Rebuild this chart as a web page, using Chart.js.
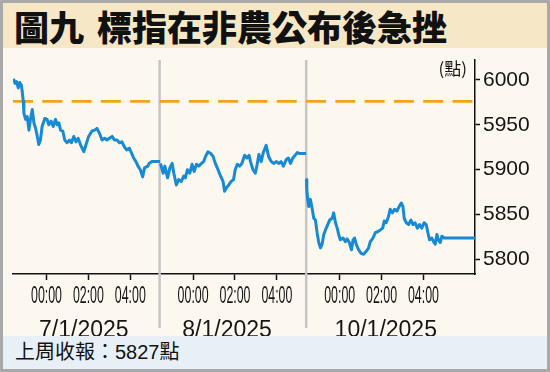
<!DOCTYPE html>
<html>
<head>
<meta charset="utf-8">
<script src="https://cdn.jsdelivr.net/npm/chart.js@4.4.1/dist/chart.umd.min.js"></script>
<style>
  html, body { margin: 0; padding: 0; background: #fff; }
  #card { position: absolute; left: 0; top: 0; width: 550px; height: 372px; box-sizing: border-box;
          border: 3px solid #a9a9a9; background: #fdf8ef; overflow: hidden; }
  #title { height: 45px; line-height: 45px; background: #f6e8c6; padding-left: 11px; color: #111;
           font-family: "Noto Sans CJK TC", sans-serif; font-weight: 900; font-size: 35px; white-space: nowrap; }
  #title span { margin-left: 13px; }
  #plot { height: 288px; background: #fdf8ef; }
  #plot canvas { display: block; }
  #foot { height: 33px; line-height: 33px; background: #e8f0f7; padding-left: 12px; color: #111;
          font-family: "Liberation Sans", "Noto Sans CJK TC", sans-serif; font-size: 20px; }
</style>
</head>
<body>
<div id="card">
  <div id="title">圖九<span>標指在非農公布後急挫</span></div>
  <div id="plot"><canvas id="chart" width="544" height="288"></canvas></div>
  <div id="foot">上周收報：5827點</div>
</div>
<script>
// hours are relative to midnight of each session day (HK time), values in index points
const session1Hours = [-1.58, -1.5, -1.43, -1.35, -1.28, -1.2, -1.16, -1.11, -1.08, -1.0, -0.92, -0.84, -0.76, -0.68,
  -0.6, -0.52, -0.44, -0.37, -0.29, -0.21, -0.08, 0.03, 0.11, 0.22, 0.32, 0.43, 0.51, 0.59, 0.67, 0.78, 0.87, 0.98,
  1.1, 1.19, 1.3, 1.41, 1.51, 1.62, 1.78, 1.89, 2.01, 2.17, 2.3, 2.41, 2.52, 2.65, 2.78, 2.89, 3.0, 3.13, 3.25, 3.37,
  3.48, 3.6, 3.73, 3.84, 3.95, 4.05, 4.16, 4.27, 4.37, 4.48, 4.59, 4.68, 4.84, 4.9, 5.03, 5.42];
const session1Values = [6001, 5996, 5998, 5991, 5997, 5994, 5987, 5976, 5963, 5956, 5959, 5944, 5957, 5967,
  5952, 5946, 5937, 5928, 5933, 5948, 5957, 5956, 5950, 5954, 5948, 5956, 5950, 5952, 5944, 5943, 5933, 5930,
  5933, 5930, 5937, 5931, 5935, 5928, 5920, 5928, 5937, 5943, 5944, 5946, 5941, 5933, 5935, 5933, 5935, 5937, 5933, 5933,
  5930, 5931, 5925, 5922, 5924, 5919, 5913, 5909, 5904, 5900, 5892, 5902, 5904, 5907, 5909, 5909];

const session2Hours = [-1.56, -1.43, -1.35, -1.22, -1.11, -1.0, -0.92, -0.8, -0.69, -0.56, -0.45, -0.37, -0.27, -0.16,
  -0.05, 0.05, 0.16, 0.27, 0.4, 0.5, 0.6, 0.71, 0.84, 0.95, 1.06, 1.19, 1.31, 1.43, 1.5, 1.59, 1.7, 1.82, 1.93,
  2.01, 2.11, 2.22, 2.33, 2.46, 2.57, 2.67, 2.74, 2.86, 2.97, 3.06, 3.14, 3.25, 3.35, 3.49, 3.6, 3.73, 3.86, 3.97,
  4.1, 4.2, 4.31, 4.44, 4.55, 4.65, 4.76, 4.87, 4.97, 5.08, 5.4];
const session2Values = [5907, 5896, 5904, 5891, 5902, 5907, 5896, 5883, 5889, 5887, 5893, 5891, 5900, 5896,
  5906, 5898, 5906, 5904, 5907, 5909, 5915, 5920, 5918, 5915, 5907, 5900, 5893, 5887, 5876, 5880, 5883, 5887, 5889,
  5900, 5906, 5904, 5907, 5916, 5913, 5916, 5909, 5900, 5896, 5906, 5917, 5909, 5919, 5927, 5915, 5909, 5907, 5909,
  5907, 5909, 5904, 5911, 5913, 5907, 5913, 5916, 5919, 5918, 5918];

const session3Hours = [-1.59, -1.57, -1.53, -1.48, -1.4, -1.31, -1.24, -1.16, -1.08, -1.0, -0.92, -0.84, -0.76, -0.68,
  -0.57, -0.48, -0.36, -0.29, -0.2, -0.12, -0.05, 0.03, 0.16, 0.27, 0.35, 0.46, 0.56, 0.64, 0.71, 0.79, 0.9, 1.02,
  1.14, 1.26, 1.38, 1.46, 1.59, 1.7, 1.81, 1.94, 2.05, 2.13, 2.22, 2.33, 2.41, 2.52, 2.62, 2.73, 2.84, 2.94, 3.02,
  3.08, 3.18, 3.29, 3.4, 3.5, 3.6, 3.71, 3.81, 3.92, 4.03, 4.13, 4.21, 4.29, 4.4, 4.48, 4.56, 4.64, 4.71, 4.8, 4.88,
  4.99, 6.46];
const session3Values = [5889, 5878, 5867, 5859, 5867, 5856, 5846, 5844, 5830, 5819, 5813, 5817, 5828, 5833,
  5839, 5844, 5846, 5852, 5841, 5835, 5828, 5822, 5824, 5820, 5823, 5819, 5811, 5822, 5824, 5817, 5811, 5807,
  5806, 5809, 5813, 5820, 5824, 5830, 5831, 5833, 5835, 5843, 5841, 5848, 5856, 5852, 5856, 5854, 5859, 5863, 5859,
  5846, 5841, 5839, 5844, 5839, 5841, 5835, 5839, 5835, 5841, 5839, 5830, 5822, 5824, 5820, 5817, 5828, 5822, 5819, 5826,
  5824, 5824];

const sessionOffsets = [0, 7, 14];
const hourTicks = [0, 2, 4];
const hourLabels = ['00:00', '02:00', '04:00'];
const dateLabels = ['7/1/2025', '8/1/2025', '10/1/2025'];
const yTicks = [5800, 5850, 5900, 5950, 6000];
const refLevel = 5976;
const unitLabel = '(點)';

const X_MIN = -1.6, X_MAX = 20.46;
const dateTickAt = [1.78, 8.62, 16.2];
const sessionBreaks = [5.4, 12.4];

function toPoints(hours, values, offset) {
  return hours.map((h, i) => ({ x: offset + h, y: values[i] }));
}

const BLUE = '#168ad5';
const lineStyle = { borderColor: BLUE, borderWidth: 3, pointRadius: 0, tension: 0, borderJoinStyle: 'round', fill: false };

const decor = {
  id: 'decor',
  beforeDatasetsDraw(chart) {
    const { ctx, chartArea, scales } = chart;
    ctx.save();
    ctx.strokeStyle = '#c6c6c6';
    ctx.lineWidth = 2.5;
    sessionBreaks.forEach(v => {
      const px = scales.x.getPixelForValue(v);
      ctx.beginPath();
      ctx.moveTo(px, chartArea.top);
      ctx.lineTo(px, chartArea.bottom + 54);
      ctx.stroke();
    });
    ctx.restore();
  },
  afterDraw(chart) {
    const { ctx, chartArea, scales } = chart;
    const x = scales.x;
    ctx.save();
    ctx.fillStyle = '#151515';
    ctx.textAlign = 'center';
    ctx.textBaseline = 'middle';
    ctx.font = '23px "Liberation Sans Narrow", "Arial Narrow", sans-serif';
    // hour labels are squeezed sideways like the printed graphic
    x.ticks.forEach((t, i) => {
      const label = hourLabels[i % hourLabels.length];
      const sx = Math.min(1, 31 / ctx.measureText(label).width);
      ctx.save();
      ctx.translate(x.getPixelForValue(t.value), x.top + 23);
      ctx.scale(sx, 1);
      ctx.fillText(label, 0, 0);
      ctx.restore();
    });
    ctx.textAlign = 'right';
    ctx.font = '17px "Noto Sans CJK TC", sans-serif';
    ctx.fillText(unitLabel, chartArea.right - 8, chartArea.top + 8.5);
    ctx.restore();
  }
};

const ctx = document.getElementById('chart').getContext('2d');
const chart = new Chart(ctx, {
  type: 'line',
  data: {
    datasets: [
      Object.assign({ data: toPoints(session1Hours, session1Values, sessionOffsets[0]) }, lineStyle),
      Object.assign({ data: toPoints(session2Hours, session2Values, sessionOffsets[1]) }, lineStyle),
      Object.assign({ data: toPoints(session3Hours, session3Values, sessionOffsets[2]) }, lineStyle),
      {
        data: [{ x: X_MIN, y: refLevel }, { x: X_MAX, y: refLevel }],
        borderColor: '#f2a31b', borderWidth: 2.8, borderDash: [20, 9.3], pointRadius: 0, fill: false
      }
    ]
  },
  options: {
    responsive: false,
    animation: false,
    devicePixelRatio: 1,
    layout: { padding: { left: 10, top: 12, right: 0, bottom: 0 } },
    plugins: { legend: { display: false }, tooltip: { enabled: false } },
    scales: {
      x: {
        type: 'linear', position: 'bottom', weight: 0,
        min: X_MIN, max: X_MAX,
        afterBuildTicks: s => {
          s.ticks = [];
          sessionOffsets.forEach(o => hourTicks.forEach(h => s.ticks.push({ value: o + h })));
        },
        afterFit: s => { s.height = 36; s.paddingLeft = 0; s.paddingRight = 0; },
        ticks: { display: false, autoSkip: false },
        grid: { drawOnChartArea: false, drawTicks: true, tickLength: 6, tickColor: '#111', tickWidth: 1.5 },
        border: { color: '#111', width: 1.5 }
      },
      x2: {
        type: 'linear', position: 'bottom', weight: 1,
        min: X_MIN, max: X_MAX,
        afterBuildTicks: s => { s.ticks = dateTickAt.map(v => ({ value: v })); },
        afterFit: s => { s.height = 26; s.paddingLeft = 0; s.paddingRight = 0; },
        ticks: {
          autoSkip: false, maxRotation: 0, padding: 1, color: '#151515',
          font: { family: '"Liberation Sans Narrow", "Arial Narrow", sans-serif', size: 23, lineHeight: 1 },
          callback: (v, i) => dateLabels[i]
        },
        grid: { display: false },
        border: { display: false }
      },
      y: {
        position: 'right',
        min: 5784, max: 6022,
        afterBuildTicks: s => { s.ticks = yTicks.map(v => ({ value: v })); },
        afterFit: s => { s.width = 72; s.paddingTop = 0; s.paddingBottom = 0; },
        ticks: {
          padding: 3, color: '#151515',
          font: { family: '"Liberation Sans Narrow", "Arial Narrow", sans-serif', size: 21, lineHeight: 1 },
          callback: v => String(v)
        },
        grid: { drawOnChartArea: false, drawTicks: true, tickLength: 5, tickColor: '#111', tickWidth: 1.5 },
        border: { color: '#111', width: 1.5 }
      }
    }
  },
  plugins: [decor]
});
</script>
</body>
</html>
